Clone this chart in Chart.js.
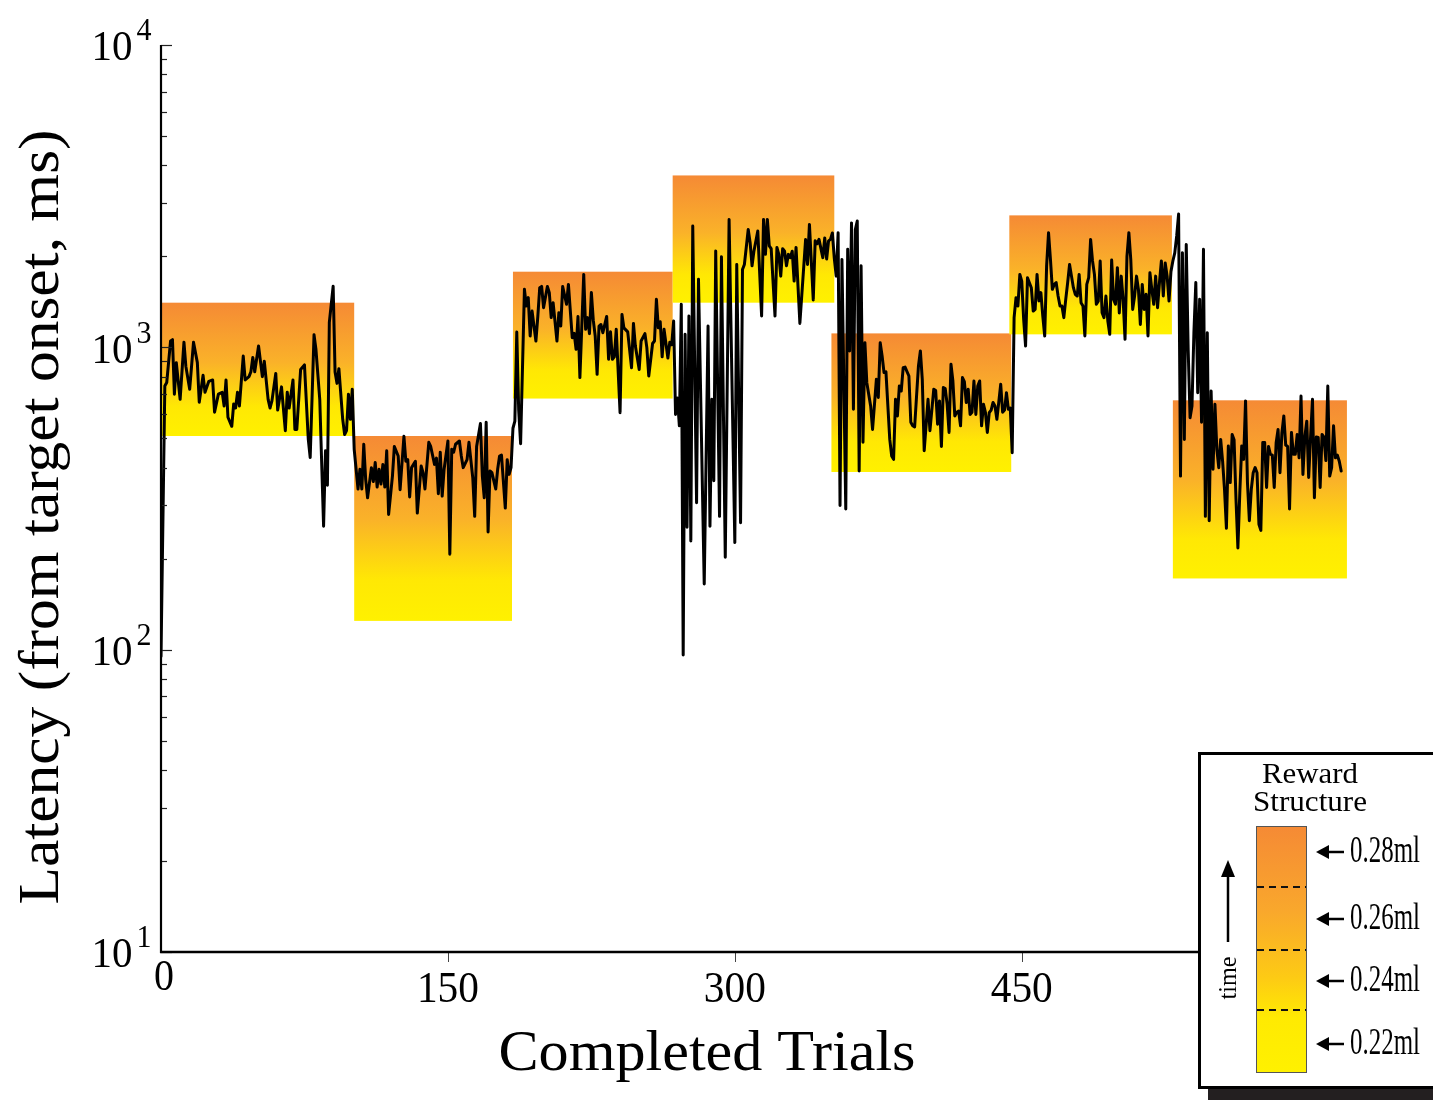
<!DOCTYPE html>
<html><head><meta charset="utf-8">
<script src="https://cdn.jsdelivr.net/npm/chart.js@4.4.1/dist/chart.umd.min.js"></script>
<style>html,body{margin:0;padding:0;background:#fff;overflow:hidden}canvas{display:block}</style>
</head><body>
<canvas id="c" width="1433" height="1100"></canvas>
<script>
// ---- data (trial number, latency in ms) ----
const block1Trials = [0,2,3,5,6,7,8,10,12,13,15,17,19,20,22,23,25,27,28,30,32,33,34,35,37,38,39,40,41,43,44,46,47,48,49,51,53,54,56,57,58,60,61,63,65,66,67,69,70,71,73,75,77,78,80,81,83,85,86,87,88,90,91,92,93,95,96,97,98,99,100];
const block1Latency = [95,745,765,1050,1060,700,890,673,1040,865,727,1040,890,658,808,710,772,780,610,700,710,640,780,587,548,650,630,710,640,936,780,800,830,925,830,1010,800,900,673,630,665,820,620,740,530,710,630,780,535,535,845,875,496,432,1100,985,673,256,455,350,1210,1593,828,760,850,578,515,530,700,578,727];

const block2Trials = [101,103,104,105,106,107,108,110,111,112,113,114,115,116,117,118,119,121,122,124,125,127,128,129,130,131,133,134,136,137,138,140,141,143,144,145,146,147,148,150,151,152,153,154,156,157,158,160,161,163,164,165,167,168,169,170,171,172,173,175,176,177,178,180,181,182,183,184,185];
const block2Latency = [460,340,395,340,478,366,318,400,360,416,345,395,353,410,345,455,280,375,470,437,338,508,420,425,320,400,420,283,405,385,340,485,470,410,430,328,450,322,395,490,207,460,450,478,490,437,400,425,485,370,276,470,560,375,318,565,245,390,385,340,395,437,440,294,425,380,400,540,570];

const block3Trials = [186,187,188,190,191,192,193,194,196,197,198,199,200,202,203,204,205,207,208,209,210,212,213,215,216,217,218,219,221,222,223,224,225,226,227,228,229,230,231,233,234,235,236,237,238,240,241,242,244,246,247,248,250,251,253,254,255,257,258,259,260,261,262,263,265,266,267,268];
const block3Latency = [1124,620,480,1555,1370,1460,1090,1318,1049,1265,1575,1590,1353,1590,1517,1254,1405,1049,1302,1176,1590,1388,1615,1076,1113,985,1265,794,1743,1147,1254,1110,1517,1230,1090,814,1176,1190,1118,1265,913,1125,913,930,1147,608,1285,1160,1125,856,1200,1010,845,1049,1110,998,804,1030,1049,1441,1160,1215,930,1147,922,1040,1020,1222];

const block4Trials = [269,270,271,272,273,274,275,276,277,278,280,281,284,286,287,288,289,290,292,293,295,297,300,301,303,304,305,307,308,309,310,312,314,315,316,317,318,319,321,322,323,324,325,326,327,328,329,330,331,332,334,337,338,339,341,342,343,344,346,347,348,349,350,351,352];
const block4Latency = [600,680,550,1388,96,1104,254,1269,229,2518,306,1678,165,1176,256,673,362,2084,276,1995,202,2649,226,1880,263,1810,1880,2453,2218,1860,2084,2424,1269,2649,2030,2649,2164,2120,1269,2140,2030,1720,2120,2080,1860,2030,1980,2080,1656,2140,1200,2275,1880,2550,1435,2250,2200,2275,1980,2300,1960,2250,2275,2390,1970];

const block5Trials = [353,354,355,356,358,359,360,361,362,363,364,365,366,367,368,369,371,372,374,375,376,377,378,379,381,382,383,384,385,386,387,388,389,391,392,393,394,395,396,397,398,399,401,402,404,405,406,407,408,409,410,411,412,413,414,415,416,417,418,419,420,421,422,423,424,425,426,427,428,429,430,431,432,433,434,435,436,437,438,439,440,441,442,443,444,445];
const block5Latency = [1720,2394,300,1953,292,2110,973,2580,624,2453,2618,390,1860,485,1036,764,640,535,784,683,1036,936,825,830,496,437,426,673,593,745,717,856,860,804,565,550,545,690,868,973,784,455,673,530,727,720,557,665,470,736,730,648,523,879,774,593,610,615,550,794,770,657,727,600,610,774,600,745,774,550,648,610,523,608,620,657,640,578,660,755,610,620,708,624,630,448];

const block6Trials = [446,447,448,449,450,451,452,453,455,456,457,458,459,460,461,462,463,464,465,466,467,468,469,470,471,472,473,474,475,476,477,478,479,480,481,482,483,484,485,486,487,488,489,490,491,492,493,494,495,496,497,498,499,500,501,502,503,504,505,506,507,508,509,510,511,512,513,514,515,516,517,518,519,520,521,522,523,524,525,526,527,528,529,530,531,532];
const block6Latency = [1254,1460,1370,1743,1656,1238,1010,1700,1575,1318,1335,1743,1423,1517,1269,1090,1860,2394,1953,1555,1615,1637,1478,1370,1370,1254,1441,1637,1880,1720,1575,1497,1478,1743,1405,1370,1090,1615,1700,2275,1930,1743,1388,1420,1930,1302,1254,1478,1222,1104,1943,1441,1388,1835,1300,1720,1441,1063,2000,2394,1950,1335,1478,1720,1555,1191,1615,1335,1497,1090,1765,1555,1388,1720,1353,1640,1930,1478,1900,1720,1423,1780,1930,2054,2336,2760];

const block7Trials = [533,534,535,536,537,538,539,540,541,542,543,544,545,546,547,548,549,550,551,552,553,554,555,556,557,558,559,560,561,562,563,564,565,566,567,568,569,570,571,572,573,574,575,576,577,578,579,580,581,582,583,584,585,586,587,588,589,590,591,592,593,594,595,596,597,598,599,600,601,602,603,604,605,606,607,608,609,610,611,612,613,614,615,616,617];
const block7Latency = [375,2054,496,2190,985,585,640,1118,1637,708,1441,565,2110,276,1118,267,717,395,648,460,400,496,420,339,252,472,357,515,495,315,217,331,472,426,665,357,267,339,385,400,385,260,248,484,484,344,470,443,440,344,484,535,385,520,593,475,470,292,523,443,443,515,431,690,380,505,570,371,505,673,318,505,503,344,515,505,422,745,375,400,550,431,440,420,390];

// reward blocks (trial range, latency band)
const blockStart = [0, 101, 184, 267.5, 350.5, 443.5, 529];
const blockEnd   = [101, 183.5, 267.5, 352, 444.5, 528.5, 620];
const blockHigh  = [1405, 509, 1779, 3703, 1112, 2732, 668];
const blockLow   = [509, 124.5, 677, 1405, 387, 1104, 172];

// axes
const xTickValues = [0, 150, 300, 450, 600];
const yDecades = [10, 100, 1000, 10000];
const yExponents = ['1', '2', '3', '4'];
const rewardLabels = ['0.28ml', '0.26ml', '0.24ml', '0.22ml'];
const xTitle = 'Completed Trials';
const yTitle = 'Latency (from target onset, ms)';
const legendTitle = ['Reward', 'Structure'];
const legendTimeLabel = 'time';

// ---- build dataset ----
const allTrials = [].concat(block1Trials, block2Trials, block3Trials, block4Trials, block5Trials, block6Trials, block7Trials);
const allLatency = [].concat(block1Latency, block2Latency, block3Latency, block4Latency, block5Latency, block6Latency, block7Latency);
const points = allTrials.map((t, i) => ({x: t, y: allLatency[i]}));

const SERIF = '"Liberation Serif", "Times New Roman", Times, serif';

function txt(ctx, s, cx, cy, size, opts) {
  opts = opts || {};
  ctx.save();
  ctx.font = size + 'px ' + SERIF;
  ctx.fillStyle = '#000';
  ctx.textAlign = 'center';
  ctx.textBaseline = 'middle';
  ctx.translate(cx, cy);
  if (opts.rot) ctx.rotate(opts.rot);
  if (opts.w) { const m = ctx.measureText(s).width; ctx.scale(opts.w / m, 1); }
  ctx.fillText(s, 0, 0);
  ctx.restore();
}

function rewardGradient(ctx, y0, y1) {
  const g = ctx.createLinearGradient(0, y0, 0, y1);
  g.addColorStop(0, '#F58A35');
  g.addColorStop(0.45, '#FAB229');
  g.addColorStop(0.78, '#FFE804');
  g.addColorStop(1, '#FFF100');
  return g;
}

const custom = {
  id: 'custom',
  beforeDatasetsDraw(chart) {
    const {ctx, scales: {x, y}} = chart;
    ctx.save();
    for (let i = 0; i < blockStart.length; i++) {
      const x0 = x.getPixelForValue(blockStart[i]);
      const x1 = x.getPixelForValue(blockEnd[i]);
      const yt = y.getPixelForValue(blockHigh[i]);
      const yb = y.getPixelForValue(blockLow[i]);
      ctx.fillStyle = rewardGradient(ctx, yt, yb);
      ctx.fillRect(x0, yt, x1 - x0, yb - yt);
    }
    ctx.restore();
  },
  afterDatasetsDraw(chart) {
    const {ctx, chartArea, scales: {x, y}} = chart;
    ctx.save();
    const left = x.getPixelForValue(0);
    const bottom = y.getPixelForValue(10);
    const top = y.getPixelForValue(10000);
    ctx.strokeStyle = '#222';
    ctx.lineWidth = 1.2;
    for (let d = 0; d < yDecades.length; d++) {
      const base = yDecades[d];
      const maxM = d === yDecades.length - 1 ? 1 : 9;
      for (let m = 1; m <= maxM; m++) {
        const py = Math.round(y.getPixelForValue(base * m)) + 0.5;
        const len = m === 1 ? 11 : 6;
        ctx.beginPath(); ctx.moveTo(left, py); ctx.lineTo(left + len, py); ctx.stroke();
      }
    }
    ctx.strokeStyle = '#444';
    ctx.lineWidth = 1;
    xTickValues.forEach(v => {
      if (v === 0) return;
      const px = Math.round(x.getPixelForValue(v)) + 0.5;
      ctx.beginPath(); ctx.moveTo(px, bottom); ctx.lineTo(px, bottom + 10); ctx.stroke();
    });
    ctx.strokeStyle = '#000';
    ctx.lineWidth = 2.2;
    ctx.beginPath(); ctx.moveTo(left, top); ctx.lineTo(left, bottom + 1); ctx.stroke();
    ctx.lineWidth = 2.5;
    ctx.beginPath(); ctx.moveTo(left - 1, bottom); ctx.lineTo(chartArea.right + 5, bottom); ctx.stroke();
    ctx.restore();
  },
  afterDraw(chart) {
    const {ctx, scales: {x, y}} = chart;
    yDecades.forEach((v, i) => {
      const py = y.getPixelForValue(v);
      txt(ctx, '10', 112, py + 4, 43, {w: 41});
      txt(ctx, yExponents[i], 144, py - 13, 32, {w: 15});
    });
    xTickValues.forEach(v => {
      const px = x.getPixelForValue(v);
      if (v === 0) txt(ctx, String(v), px + 3, 978, 45, {w: 20});
      else txt(ctx, String(v), px, 990, 45, {w: 62});
    });
    txt(ctx, xTitle, 707, 1055, 58, {w: 417});
    txt(ctx, yTitle, 43, 517, 57, {rot: -Math.PI / 2, w: 775});

    // ---- legend box ----
    ctx.save();
    ctx.fillStyle = '#231F20';
    ctx.fillRect(1208, 1088, 240, 12);
    ctx.fillStyle = '#fff';
    ctx.fillRect(1199, 753, 245, 335);
    ctx.strokeStyle = '#000';
    ctx.lineWidth = 3;
    ctx.strokeRect(1199.5, 753.5, 245, 334);
    ctx.restore();

    txt(ctx, legendTitle[0], 1310, 775, 30, {w: 96});
    txt(ctx, legendTitle[1], 1310, 803, 30, {w: 114});

    ctx.save();
    const bx = 1256, by = 826, bw = 50, bh = 246;
    const g = ctx.createLinearGradient(0, by, 0, by + bh);
    g.addColorStop(0, '#F58A35');
    g.addColorStop(0.35, '#F9A82C');
    g.addColorStop(0.62, '#FDCB14');
    g.addColorStop(0.78, '#FFEA02');
    g.addColorStop(1, '#FFF100');
    ctx.fillStyle = g;
    ctx.fillRect(bx, by, bw, bh);
    ctx.strokeStyle = '#555';
    ctx.lineWidth = 1;
    ctx.strokeRect(bx + 0.5, by + 0.5, bw, bh);
    ctx.strokeStyle = '#111';
    ctx.lineWidth = 2;
    ctx.setLineDash([7, 5]);
    [887, 950, 1010].forEach(yy => {
      ctx.beginPath(); ctx.moveTo(bx + 1, yy); ctx.lineTo(bx + bw, yy); ctx.stroke();
    });
    ctx.setLineDash([]);
    const rows = [852, 919, 981, 1044];
    ctx.fillStyle = '#000';
    ctx.strokeStyle = '#000';
    ctx.lineWidth = 2.5;
    rows.forEach((ry, i) => {
      ctx.beginPath(); ctx.moveTo(1344, ry); ctx.lineTo(1324, ry); ctx.stroke();
      ctx.beginPath(); ctx.moveTo(1316, ry); ctx.lineTo(1329, ry - 7); ctx.lineTo(1329, ry + 7); ctx.closePath(); ctx.fill();
      txt(ctx, rewardLabels[i], 1385, ry, 38, {w: 70});
    });
    ctx.beginPath(); ctx.moveTo(1228, 942); ctx.lineTo(1228, 872); ctx.stroke();
    ctx.beginPath(); ctx.moveTo(1228, 860); ctx.lineTo(1221, 877); ctx.lineTo(1235, 877); ctx.closePath(); ctx.fill();
    ctx.restore();
    txt(ctx, legendTimeLabel, 1229, 978, 25, {rot: -Math.PI / 2, w: 43});
  }
};

new Chart(document.getElementById('c'), {
  type: 'line',
  data: {
    datasets: [{
      data: points,
      borderColor: '#000',
      borderWidth: 3,
      borderJoinStyle: 'round',
      borderCapStyle: 'round',
      pointRadius: 0,
      tension: 0,
      fill: false
    }]
  },
  options: {
    responsive: false,
    animation: false,
    devicePixelRatio: 1,
    layout: {padding: {left: 161, top: 45, right: 0, bottom: 148}},
    plugins: {legend: {display: false}, tooltip: {enabled: false}},
    scales: {
      x: {type: 'linear', min: 0, max: 665, display: false},
      y: {type: 'logarithmic', min: 10, max: 10000, display: false}
    }
  },
  plugins: [custom]
});
</script>
</body></html>
